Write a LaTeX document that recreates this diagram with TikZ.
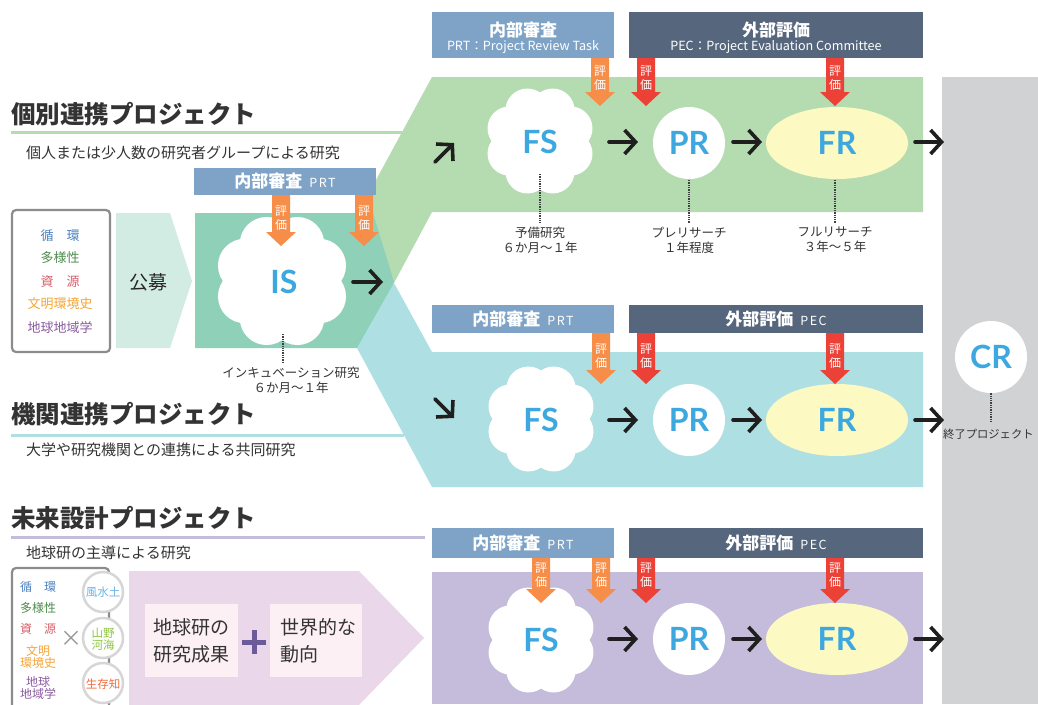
\documentclass[tikz,border=0pt]{standalone}
\usepackage{fontspec}
\setmainfont{Noto Sans CJK JP}
\newfontfamily\latf{Lato}
\usetikzlibrary{arrows.meta,shapes.geometric}
\definecolor{gband}{HTML}{B5DBB0}
\definecolor{bband}{HTML}{AEDFE3}
\definecolor{pband}{HTML}{C5BBDB}
\definecolor{tealbox}{HTML}{8FD0B9}
\definecolor{mint}{HTML}{D3ECE3}
\definecolor{lpur}{HTML}{EAD8EA}
\definecolor{prtc}{HTML}{7FA3C6}
\definecolor{pecc}{HTML}{56667D}
\definecolor{evo}{HTML}{F68D48}
\definecolor{evr}{HTML}{EC4136}
\definecolor{fry}{HTML}{FDF9C2}
\definecolor{grayc}{HTML}{D1D2D4}
\definecolor{bluet}{HTML}{3DA8E0}
\definecolor{txt}{HTML}{333333}
\definecolor{pinkbox}{HTML}{FCF0F5}
\definecolor{c1}{HTML}{4B80C0}
\definecolor{c2}{HTML}{4E8C4F}
\definecolor{c3}{HTML}{D95F6A}
\definecolor{c4}{HTML}{F6A637}
\definecolor{c5}{HTML}{8A5B9F}
\definecolor{k1}{HTML}{6CB4E4}
\definecolor{k2}{HTML}{8DC63F}
\definecolor{k3}{HTML}{F06C3B}
\definecolor{plusc}{HTML}{6B5B9B}
\newcommand\flower[2]{%
  \begin{scope}[shift={#1}, scale=#2]
    \fill[white] (0,0) circle (35);
    \foreach \a in {22.5,67.5,...,337.5} \fill[white] (\a:33) circle (22);
  \end{scope}}
\newcommand\evarrow[5]{%
  \fill[#5] ({#2-9},#3) -- ({#2+9},#3) -- ({#2+9},{#4-14}) -- ({#2+15},{#4-14}) -- (#2,#4) -- ({#2-15},{#4-14}) -- ({#2-9},{#4-14}) -- cycle;
  \node[evtext] (#1) at (#2,{#4-28}) {評\\価};}
\newcommand\hdrtag[1]{\hspace{7pt}{\mdseries\fontsize{12.5}{12.5}\selectfont\addfontfeature{LetterSpace=12}#1}}
\begin{document}
\begin{tikzpicture}[x=1pt,y=-1pt,
  ttl/.style={font=\bfseries\fontsize{24.5}{26}\selectfont, text=txt, anchor=west, inner sep=0},
  sub/.style={font=\fontsize{15}{17}\selectfont, text=txt, anchor=west, inner sep=0},
  lbl/.style={font=\fontsize{12.5}{15}\selectfont, text=txt, align=center, inner sep=0},
  hdrbig/.style={font=\bfseries\fontsize{17}{19}\selectfont, text=white, inner sep=0},
  hdrsmall/.style={font=\fontsize{12.6}{13}\selectfont, text=white, inner sep=0},
  bigl/.style={font=\latf\bfseries\fontsize{32}{32}\selectfont, text=bluet, inner sep=0},
  prc/.style={circle, fill=white, minimum size=72, bigl},
  frc/.style={ellipse, fill=fry, minimum width=142, minimum height=72, bigl},
  flow/.style={line width=3.6pt, line cap=round, line join=round, draw=black!88, -{Straight Barb[length=11pt, width=24pt]}},
  dots/.style={densely dotted, line width=1.3pt, draw=black!75},
  evtext/.style={font=\fontsize{12}{14.5}\selectfont, text=white, align=center, inner sep=0},
  boxline/.style={draw=black!45, line width=2.2pt},
  ltxt/.style={font=\fontsize{13}{13}\selectfont, inner sep=0},
  stxt/.style={font=\fontsize{12}{12}\selectfont, inner sep=0},
  ctxt/.style={font=\fontsize{11.5}{12.5}\selectfont, inner sep=0, align=center},
  kcirc/.style={circle, fill=white, draw=black!16, line width=2.5pt, minimum size=40, inner sep=0}
]
\useasboundingbox (0,0) rectangle (1038,704);
\fill[white] (0,0) rectangle (1038,704);
% backgrounds
\fill[grayc] (942,77) rectangle (1038,704);
\fill[gband] (432,77) -- (923,77) -- (923,212) -- (432,212) -- (394,283) -- (320,283) -- cycle;
\fill[tealbox] (195,213) -- (373,213) -- (394,282) -- (373,348) -- (195,348) -- cycle;
\fill[bband] (394,283) -- (432,352) -- (923,352) -- (923,487) -- (432,487) -- (357,348) -- cycle;
\fill[pband] (432,572) rectangle (923,704);
\fill[mint] (116,213) -- (170,213) -- (192,281) -- (170,348) -- (116,348) -- cycle;
\fill[lpur] (129,571) -- (359,571) -- (424,638) -- (359,705) -- (129,705) -- cycle;

% titles
\node[ttl] (t1) at (11,114) {個別連携プロジェクト};
\draw[gband, line width=3pt] (11,132) -- (402,132);
\node[sub] (s1) at (26,153) {個人または少人数の研究者グループによる研究};
\node[ttl] (t2) at (11,414) {機関連携プロジェクト};
\draw[bband, line width=3pt] (11,435) -- (404,435);
\node[sub] (s2) at (26,450) {大学や研究機関との連携による共同研究};
\node[ttl] (t3) at (11,518) {未来設計プロジェクト};
\draw[pband, line width=3pt] (11,537) -- (425,537);
\node[sub] (s3) at (26,553) {地球研の主導による研究};

% left box 1
\draw[boxline, rounded corners=4pt] (12,210) rectangle (110,352);
\node[ltxt, text=c1] (l1) at (60,236) {循　環};
\node[ltxt, text=c2] (l2) at (60,258) {多様性};
\node[ltxt, text=c3] (l3) at (60,282) {資　源};
\node[ltxt, text=c4] (l4) at (60,304) {文明環境史};
\node[ltxt, text=c5] (l5) at (60,328) {地球地域学};
\node[font=\fontsize{19}{19}\selectfont, text=black!85, inner sep=0] (kobo) at (148,282) {公募};

% headers
\node[fill=prtc, minimum width=182, minimum height=46, inner sep=0] (prt1) at (523,35) {};
\node[hdrbig] (prt1t) at (523,30) {内部審査};
\node[hdrsmall] (prt1s) at (523,47) {PRT：Project Review Task};
\node[fill=pecc, minimum width=294, minimum height=46, inner sep=0] (pec1) at (776,35) {};
\node[hdrbig] (pec1t) at (776,30) {外部評価};
\node[hdrsmall] (pec1s) at (776,47) {PEC：Project Evaluation Committee};
\node[fill=prtc, minimum width=182, minimum height=27, inner sep=0] (prt0) at (285,181.5) {};
\node[hdrbig] (prt0t) at (285,181.5) {内部審査\hdrtag{PRT}};
\node[fill=prtc, minimum width=182, minimum height=28, inner sep=0] (prt2) at (523,319) {};
\node[hdrbig] (prt2t) at (523,319) {内部審査\hdrtag{PRT}};
\node[fill=pecc, minimum width=294, minimum height=28, inner sep=0] (pec2) at (776,319) {};
\node[hdrbig] (pec2t) at (776,319) {外部評価\hdrtag{PEC}};
\node[fill=prtc, minimum width=182, minimum height=30, inner sep=0] (prt3) at (523,543) {};
\node[hdrbig] (prt3t) at (523,543) {内部審査\hdrtag{PRT}};
\node[fill=pecc, minimum width=294, minimum height=30, inner sep=0] (pec3) at (776,543) {};
\node[hdrbig] (pec3t) at (776,543) {外部評価\hdrtag{PEC}};

% clouds
\flower{(282,281)}{1.22}
\flower{(540,141)}{1}
\flower{(541,419)}{1}
\flower{(541,640)}{1}
\node[bigl] (is) at (284,282) {IS};
\node[bigl] (fs1) at (540,142) {FS};
\node[bigl] (fs2) at (541,420) {FS};
\node[bigl] (fs3) at (541,640) {FS};
\node[prc] (pr1) at (689,143) {PR};
\node[prc] (pr2) at (689,420) {PR};
\node[prc] (pr3) at (689,639) {PR};
\node[frc] (fr1) at (837,143) {FR};
\node[frc] (fr2) at (837,420) {FR};
\node[frc] (fr3) at (837,639) {FR};
\node[prc] (cr) at (991,357) {CR};

% evaluation arrows
\evarrow{e01}{281}{195}{246}{evo}
\evarrow{e02}{364}{195}{246}{evo}
\evarrow{e11}{600}{58}{106}{evo}
\evarrow{e12}{646}{58}{106}{evr}
\evarrow{e13}{835}{58}{106}{evr}
\evarrow{e21}{601}{333}{384}{evo}
\evarrow{e22}{646}{333}{384}{evr}
\evarrow{e23}{835}{333}{384}{evr}
\evarrow{e31}{541}{558}{603}{evo}
\evarrow{e32}{601}{558}{603}{evo}
\evarrow{e33}{646}{558}{603}{evr}
\evarrow{e34}{835}{558}{603}{evr}

% flow arrows
\coordinate (a0s) at (353,282); \coordinate (a0e) at (383,282);
\draw[flow] (a0s) -- (a0e);
\coordinate (u1s) at (435,162); \coordinate (u1e) at (454,143);
\draw[flow] (u1s) -- (u1e);
\coordinate (u2s) at (435,399); \coordinate (u2e) at (454,418);
\draw[flow] (u2s) -- (u2e);
\foreach \y/\r in {142/1,420/2,639/3}{
  \coordinate (b\r s) at (609,\y); \coordinate (b\r e) at (638,\y);
  \coordinate (c\r s) at (733,\y); \coordinate (c\r e) at (762,\y);
  \coordinate (d\r s) at (915,\y); \coordinate (d\r e) at (944,\y);
  \draw[flow] (b\r s) -- (b\r e);
  \draw[flow] (c\r s) -- (c\r e);
  \draw[flow] (d\r s) -- (d\r e);
}

% dotted labels
\coordinate (isd) at (283,362);
\draw[dots] (283,334) -- (isd);
\node[lbl] (isl) at (291,380) {インキュベーション研究\\６か月〜１年};
\coordinate (fsd) at (540,223);
\draw[dots] (540,174) -- (fsd);
\node[lbl] (fsl) at (540,240) {予備研究\\６か月〜１年};
\coordinate (prd) at (689,223);
\draw[dots] (689,180) -- (prd);
\node[lbl] (prl) at (689,240) {プレリサーチ\\１年程度};
\coordinate (frd) at (835,223);
\draw[dots] (835,180) -- (frd);
\node[lbl] (frl) at (835,240) {フルリサーチ\\３年〜５年};
\coordinate (crd) at (991,421);
\draw[dots] (cr.south) -- (crd);
\node[lbl, anchor=west, font=\fontsize{11.3}{14}\selectfont] (crl) at (943,434) {終了プロジェクト};

% bottom-left box
\draw[boxline, rounded corners=4pt] (12,720) -- (12,568) -- (109,568) -- (109,720);
\node[stxt, text=c1] (m1) at (38,587) {循　環};
\node[stxt, text=c2] (m2) at (38,608) {多様性};
\node[stxt, text=c3] (m3) at (38,629) {資　源};
\node[stxt, text=c4, align=center, font=\fontsize{12}{12}\selectfont] (m4) at (38,657) {文明\\環境史};
\node[stxt, text=c5, align=center, font=\fontsize{12}{12}\selectfont] (m5) at (38,688) {地球\\地域学};
\node[font=\fontsize{22}{22}\selectfont, text=black!40, inner sep=0] (times) at (71,639) {×};
\node[kcirc] (k1) at (103,592) {};
\node[kcirc] (k2) at (103,638) {};
\node[kcirc] (k3) at (103,683) {};
\node[ctxt, text=k1] (k1t) at (103,592) {風水土};
\node[ctxt, text=k2] (k2t) at (103,639) {山野\\河海};
\node[ctxt, text=k3] (k3t) at (103,684) {生存知};

% pink boxes
\node[fill=pinkbox, minimum width=93, minimum height=73, inner sep=0] (pb1) at (191.5,640.5) {};
\node[anchor=west, align=left, font=\fontsize{19}{27}\selectfont, text=txt, inner sep=0] (pb1t) at (153,641) {地球研の\\研究成果};
\node[fill=pinkbox, minimum width=92, minimum height=73, inner sep=0] (pb2) at (316,640.5) {};
\node[anchor=west, align=left, font=\fontsize{19}{27}\selectfont, text=txt, inner sep=0] (pb2t) at (280,641) {世界的な\\動向};
\coordinate (plus) at (254,642);
\draw[plusc, line width=5pt] (242,642) -- (266,642) (254,630) -- (254,654);
\end{tikzpicture}
\end{document}
